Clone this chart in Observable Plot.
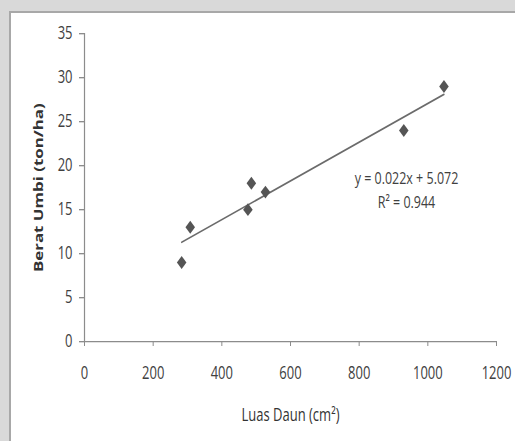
<!DOCTYPE html>
<html>
<head>
<meta charset="utf-8">
<script src="https://cdn.jsdelivr.net/npm/d3@7"></script>
<script src="https://cdn.jsdelivr.net/npm/@observablehq/plot@0.6"></script>
<style>
  html, body { margin: 0; padding: 0; }
  body { width: 515px; height: 441px; background: #d9d9d9; position: relative; overflow: hidden; }
  #frame { position: absolute; left: 9px; top: 11px; width: 520px; height: 440px; background: #fff; border: 2px solid #a8a8a8; box-sizing: border-box; }
  #chart { position: absolute; left: 0; top: 0; width: 515px; height: 441px; }
  #chart svg { transform-origin: 0 0; transform: scaleY(1.35); display: block; }
</style>
</head>
<body>
<div id="frame"></div>
<div id="chart"></div>
<script>
// Data
const luasDaun = [283, 308, 476, 486, 527, 930, 1047];   // cm²
const beratUmbi = [9, 13, 15, 18, 17, 24, 29];           // ton/ha
const slope = 0.022;
const intercept = 5.072;
const rSquared = 0.944;
const xTicks = [0, 200, 400, 600, 800, 1000, 1200];
const yTicks = [0, 5, 10, 15, 20, 25, 30, 35];
const xLabel = "Luas Daun (cm²)";
const yLabel = "Berat Umbi (ton/ha)";

const points = luasDaun.map((x, i) => ({x, y: beratUmbi[i]}));
const [xmin, xmax] = d3.extent(luasDaun);
const trend = [xmin, xmax].map(x => ({x, y: slope * x + intercept}));

const S = 1.35; // vertical stretch of the reference picture
const font = '"Open Sans", sans-serif';

const chart = Plot.plot({
  width: 515,
  height: 441 / S,
  marginLeft: 84,
  marginRight: 19,
  marginTop: 33 / S,
  marginBottom: 100 / S,
  style: {background: "transparent", fontFamily: font},
  x: {domain: [0, 1200]},
  y: {domain: [0, 35]},
  marks: [
    Plot.ruleX([0], {stroke: "#8c8c8c", strokeWidth: 1.2}),
    Plot.ruleY([0], {stroke: "#8c8c8c", strokeWidth: 1}),
    Plot.axisY({ticks: yTicks, tickFormat: d => String(d), tickSize: 5, tickPadding: 7, stroke: "#8c8c8c", fill: "#404040", fontSize: 13, label: null}),
    Plot.axisX({ticks: xTicks, tickFormat: d => String(d), tickSize: 5 / S, tickPadding: 14.5, stroke: "#8c8c8c", fill: "#404040", fontSize: 13, label: null}),
    Plot.line(trend, {x: "x", y: "y", stroke: "#6b6b6b", strokeWidth: 1.3}),
    Plot.dot(points, {x: "x", y: "y", symbol: "diamond2", r: 4.3, fill: "#555", stroke: "none"}),
    Plot.text([`y = ${slope.toFixed(3)}x + ${intercept.toFixed(3)}`], {frameAnchor: "top-left", dx: 322, dy: 107.5, textAnchor: "middle", lineAnchor: "middle", fontSize: 12.5, fill: "#404040"}),
    Plot.text([`R² = ${rSquared.toFixed(3)}`], {frameAnchor: "top-left", dx: 322, dy: 125.2, textAnchor: "middle", lineAnchor: "middle", fontSize: 12.5, fill: "#404040"}),
    Plot.text([xLabel], {frameAnchor: "bottom", dy: 54.8, textAnchor: "middle", lineAnchor: "middle", fontSize: 13, fill: "#333"}),
    Plot.text([yLabel], {frameAnchor: "left", dx: -46, rotate: -90, textAnchor: "middle", lineAnchor: "middle", fontSize: 12.5, fontWeight: "bold", fill: "#333"})
  ]
});
document.getElementById("chart").appendChild(chart);
</script>
</body>
</html>
